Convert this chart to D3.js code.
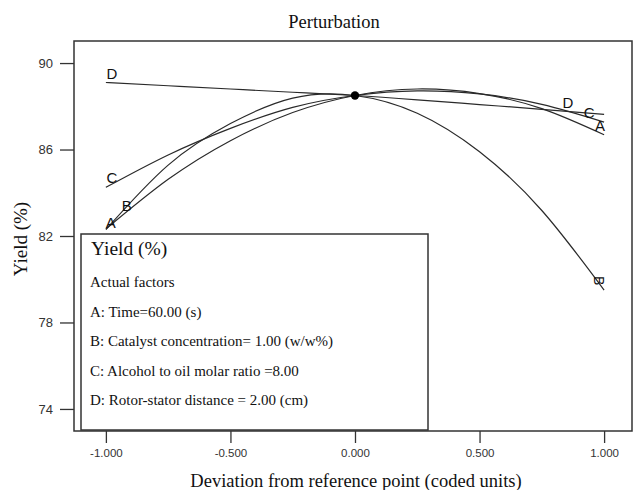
<!DOCTYPE html>
<html>
<head>
<meta charset="utf-8">
<script src="https://cdn.jsdelivr.net/npm/d3@7"></script>
<style>
  body { margin: 0; background: #fff; }
  svg { display: block; }
</style>
</head>
<body>
<div id="chart"></div>
<script>
const xValues = [-1, -0.75, -0.5, -0.25, 0, 0.25, 0.5, 0.75, 1];
const seriesA = [82.32, 84.62, 86.41, 87.71, 88.5, 88.80, 88.59, 87.89, 86.68];
const seriesB = [82.3, 85.28, 87.2, 88.38, 88.5, 87.68, 85.9, 83.18, 79.5];
const seriesC = [84.25, 85.75, 86.98, 87.95, 88.5, 88.71, 88.57, 88.09, 87.27];
const seriesD = [89.1, 88.95, 88.8, 88.65, 88.5, 88.3, 88.08, 87.86, 87.63];
const seriesNames = ["A", "B", "C", "D"];

const refPoint = [0, 88.5];

// curve letters (coded x, yield at baseline)
const labelText = ["D", "C", "B", "A", "D", "C", "A"];
const labelX = [-0.976, -0.976, -0.916, -0.98, 0.855, 0.94, 0.984];
const labelY = [89.26, 84.44, 83.15, 82.36, 87.92, 87.45, 86.85];
const sideLabel = { text: "B", x: 0.981, y: 79.93 };

const xTicks = [-1, -0.5, 0, 0.5, 1];
const xTickLabels = ["-1.000", "-0.500", "0.000", "0.500", "1.000"];
const yTicks = [74, 78, 82, 86, 90];

const legendTitle = "Yield (%)";
const legendLines = [
  "Actual factors",
  "A: Time=60.00 (s)",
  "B: Catalyst concentration= 1.00 (w/w%)",
  "C: Alcohol to oil molar ratio =8.00",
  "D: Rotor-stator distance = 2.00 (cm)"
];

const width = 633, height = 490;
const frame = { left: 74, top: 41, right: 632, bottom: 431 };
const serif = "'Liberation Serif', 'Times New Roman', serif";
const sans = "'Liberation Sans', Arial, sans-serif";
const ink = "#333";

const svg = d3.select("#chart")
  .append("svg")
  .attr("width", width)
  .attr("height", height);

const x = d3.scaleLinear()
  .domain([-1.128, 1.112])
  .range([frame.left, frame.right]);

const y = d3.scaleLinear()
  .domain([72.98, 91.02])
  .range([frame.bottom, frame.top]);

// title + axis titles
svg.append("text")
  .attr("x", 334)
  .attr("y", 28)
  .attr("text-anchor", "middle")
  .style("font-family", serif)
  .style("font-size", "18.5px")
  .attr("fill", "#111")
  .text("Perturbation");

svg.append("text")
  .attr("transform", "translate(27,239) rotate(-90)")
  .attr("text-anchor", "middle")
  .style("font-family", serif)
  .style("font-size", "19px")
  .attr("fill", "#111")
  .text("Yield (%)");

svg.append("text")
  .attr("x", 356)
  .attr("y", 487)
  .attr("text-anchor", "middle")
  .style("font-family", serif)
  .style("font-size", "18.5px")
  .attr("fill", "#111")
  .text("Deviation from reference point (coded units)");

// axes
const xAxis = svg.append("g")
  .attr("transform", `translate(0,${frame.bottom})`)
  .call(d3.axisBottom(x)
    .tickValues(xTicks)
    .tickFormat((d, i) => xTickLabels[i])
    .tickSize(12)
    .tickPadding(6));

const yAxis = svg.append("g")
  .attr("transform", `translate(${frame.left},0)`)
  .call(d3.axisLeft(y)
    .tickValues(yTicks)
    .tickSize(14)
    .tickPadding(7));

[xAxis, yAxis].forEach(ax => {
  ax.select(".domain").remove();
  ax.selectAll(".tick line").attr("stroke", ink).attr("stroke-width", 1.3);
  ax.selectAll(".tick text")
    .attr("fill", ink)
    .style("font-family", sans);
});
xAxis.selectAll(".tick text").style("font-size", "11.5px");
yAxis.selectAll(".tick text").style("font-size", "13px");

// plot frame
svg.append("path")
  .attr("d", `M${frame.left},${frame.bottom}V${frame.top}H${frame.right}V${frame.bottom}Z`)
  .attr("fill", "none")
  .attr("stroke", ink)
  .attr("stroke-width", 1.5);

// curves
const line = d3.line()
  .x(d => x(d[0]))
  .y(d => y(d[1]))
  .curve(d3.curveNatural);

const allSeries = [seriesA, seriesB, seriesC, seriesD];

svg.append("g")
  .selectAll("path")
  .data(allSeries)
  .join("path")
    .attr("class", (d, i) => "curve-" + seriesNames[i])
    .attr("d", d => line(d.map((v, i) => [xValues[i], v])))
    .attr("fill", "none")
    .attr("stroke", "#2a2a2a")
    .attr("stroke-width", 1.2);

svg.append("circle")
  .attr("cx", x(refPoint[0]))
  .attr("cy", y(refPoint[1]))
  .attr("r", 4.2)
  .attr("fill", "#000");

svg.append("g")
  .selectAll("text")
  .data(labelText)
  .join("text")
    .attr("x", (d, i) => x(labelX[i]))
    .attr("y", (d, i) => y(labelY[i]))
    .attr("text-anchor", "middle")
    .style("font-family", sans)
    .style("font-size", "15px")
    .attr("fill", "#111")
    .text(d => d);

svg.append("text")
  .attr("transform", `translate(${x(sideLabel.x)},${y(sideLabel.y)}) rotate(90)`)
  .attr("text-anchor", "middle")
  .attr("dominant-baseline", "central")
  .style("font-family", sans)
  .style("font-size", "14px")
  .attr("fill", "#111")
  .text(sideLabel.text);

// legend box
const legend = svg.append("g");

legend.append("rect")
  .attr("x", 81)
  .attr("y", 234)
  .attr("width", 347)
  .attr("height", 196)
  .attr("fill", "#fff")
  .attr("stroke", ink)
  .attr("stroke-width", 1.5);

legend.append("text")
  .attr("x", 91)
  .attr("y", 255)
  .style("font-family", serif)
  .style("font-size", "19.5px")
  .attr("fill", "#111")
  .text(legendTitle);

legend.selectAll(".item")
  .data(legendLines)
  .join("text")
    .attr("class", "item")
    .attr("x", 90)
    .attr("y", (d, i) => 287 + i * 29.5)
    .style("font-family", serif)
    .style("font-size", "15px")
    .attr("fill", "#111")
    .text(d => d);
</script>
</body>
</html>
